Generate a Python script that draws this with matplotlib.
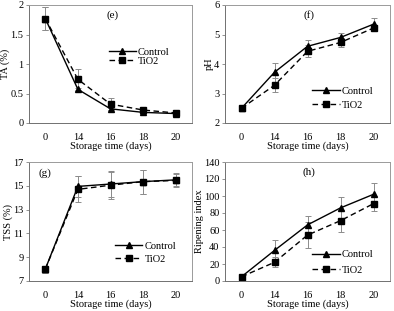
import matplotlib
matplotlib.use("Agg")
import matplotlib.pyplot as plt
from matplotlib.lines import Line2D
import numpy as np

plt.rcParams['font.family'] = ['Liberation Serif', 'DejaVu Serif']

days = ["0", "14", "16", "18", "20"]

ta_control = [1.77, 0.57, 0.24, 0.18, 0.16]
ta_control_err = [0.20, 0.02, 0.02, 0.02, 0.02]
ta_tio2 = [1.77, 0.74, 0.32, 0.22, 0.17]
ta_tio2_err = [0.20, 0.18, 0.10, 0.03, 0.03]

ph_control = [2.5, 3.72, 4.6, 4.9, 5.35]
ph_control_err = [0.03, 0.33, 0.2, 0.15, 0.2]
ph_tio2 = [2.5, 3.28, 4.43, 4.73, 5.22]
ph_tio2_err = [0.03, 0.23, 0.2, 0.15, 0.1]

tss_control = [8.0, 14.95, 15.15, 15.35, 15.5]
tss_control_err = [0.3, 0.85, 1.05, 1.0, 0.55]
tss_tio2 = [8.0, 14.7, 15.05, 15.35, 15.45]
tss_tio2_err = [0.3, 1.1, 1.2, 1.0, 0.55]

ri_control = [5, 36, 66, 86, 102]
ri_control_err = [1, 12, 11, 13, 13]
ri_tio2 = [5, 22, 54, 71, 91]
ri_tio2_err = [1, 6, 15, 13, 9]

W, H = 394, 311
fig = plt.figure(figsize=(W / 100, H / 100), dpi=100)

def add_ax(l, t, r, b):
    return fig.add_axes([l / W, 1 - b / H, (r - l) / W, (b - t) / H])

panels = [
    dict(box=(29, 5, 192, 123), c=ta_control, ce=ta_control_err, t=ta_tio2, te=ta_tio2_err,
         ylim=(0, 2), yticks=[0, 0.5, 1, 1.5, 2], ylab="TA (%)", tag="(e)", tagpos=(2.05, 1.83),
         leg=(0.49, 0.64), ls=0.0),
    dict(box=(225, 5, 390, 123), c=ph_control, ce=ph_control_err, t=ph_tio2, te=ph_tio2_err,
         ylim=(2, 6), yticks=[2, 3, 4, 5, 6], ylab="pH", tag="(f)", tagpos=(2.05, 5.66),
         leg=(0.53, 0.31), ls=0.45),
    dict(box=(29, 162, 192, 281), c=tss_control, ce=tss_control_err, t=tss_tio2, te=tss_tio2_err,
         ylim=(7, 17), yticks=[7, 9, 11, 13, 15, 17], ylab="TSS (%)", tag="(g)", tagpos=(0.0, 16.1),
         leg=(0.53, 0.33), ls=0.35),
    dict(box=(225, 162, 390, 281), c=ri_control, ce=ri_control_err, t=ri_tio2, te=ri_tio2_err,
         ylim=(0, 140), yticks=list(range(0, 141, 20)), ylab="Ripening index", tag="(h)",
         tagpos=(2.05, 128), leg=(0.53, 0.26), ls=0.6),
]

dash = (0, (4, 2.5))
x = np.arange(len(days))
for p in panels:
    ax = add_ax(*p["box"])
    ax.errorbar(x, p["c"], yerr=p["ce"], color="black", lw=1.0, marker="^", ms=4,
                ecolor="#8c8c8c", elinewidth=0.7, capsize=2, capthick=0.7)
    ax.errorbar(x, p["t"], yerr=p["te"], color="black", lw=1.0, ls=dash, marker="s",
                ms=4, ecolor="#8c8c8c", elinewidth=0.7, capsize=2, capthick=0.7)
    ax.set_xlim(-0.5, 4.5)
    ax.set_ylim(*p["ylim"])
    ax.set_yticks(p["yticks"])
    ax.set_yticklabels([f"{v:g}" for v in p["yticks"]])
    ax.set_xticks(x)
    ax.set_xticklabels(days)
    ax.tick_params(axis="x", length=0, labelsize=7.5, pad=7)
    ax.tick_params(axis="y", length=2.5, width=0.6, color="#808080", labelsize=7.5, pad=1.5)
    for s in ax.spines.values():
        s.set_color("#9a9a9a")
        s.set_linewidth(0.7)
    ax.spines["left"].set_color("#707070")
    ax.spines["bottom"].set_color("#707070")
    ax.set_xlabel("Storage time (days)", fontsize=7.5, labelpad=0)
    ax.set_ylabel(p["ylab"], fontsize=7.5, labelpad=0)
    ax.text(*p["tagpos"], p["tag"], fontsize=8, ha="center", va="center")
    handles = [Line2D([], [], color="black", lw=1.0, marker="^", ms=4),
               Line2D([], [], color="black", lw=1.0, ls=dash, marker="s", ms=4)]
    ax.legend(handles, ["Control", "TiO2"], loc="upper left", bbox_to_anchor=p["leg"],
              frameon=False, fontsize=7.5, handlelength=2.6, handletextpad=0.2,
              labelspacing=p["ls"], borderpad=0, borderaxespad=0)

fig.savefig("out.png", dpi=100)
